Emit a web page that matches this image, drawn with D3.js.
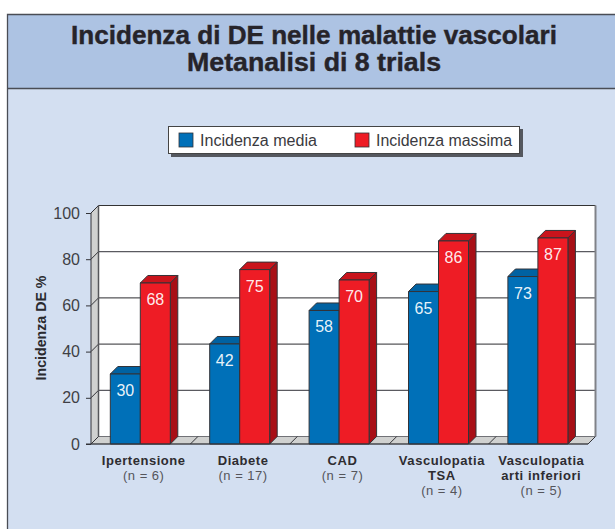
<!DOCTYPE html>
<html><head><meta charset="utf-8">
<script src="https://cdn.jsdelivr.net/npm/d3@7/dist/d3.min.js"></script>
<style>html,body{margin:0;padding:0;background:#fff}svg{display:block}text{font-family:"Liberation Sans",Arial,sans-serif}</style>
</head><body><svg id="c" width="615" height="529"></svg>
<script>
const categories = ["Ipertensione","Diabete","CAD","Vasculopatia","Vasculopatia"];
const categoryLine2 = ["","","","TSA","arti inferiori"];
const sampleSizes = ["(n = 6)","(n = 17)","(n = 7)","(n = 4)","(n = 5)"];
const seriesNames = ["Incidenza media","Incidenza massima"];
const mediaLabels = [30,42,58,65,73];
const massimaLabels = [68,75,70,86,87];
// bar heights as drawn in the picture
const mediaHeights = [30.3,43.3,57.8,66,72.5];
const massimaHeights = [69.7,75.5,71,87.9,89.2];
const yTicks = [0,20,40,60,80,100];

const svg = d3.select("#c");
const D = 7.5;
const x = d3.scaleBand().domain(d3.range(5)).range([91,588]).padding(0);
const barW = 30;
const y = d3.scaleLinear().domain([0,100]).range([444,213]);
const poly = p => p.map(q=>q.join(",")).join(" ");
const dark = "#333338";

// panels
svg.append("rect").attr("x",7).attr("y",14).attr("width",608).attr("height",74).attr("fill","#adc3e3");
svg.append("rect").attr("x",7).attr("y",88).attr("width",608).attr("height",441).attr("fill","#d3dff1");
svg.append("path").attr("d","M7.5,529V14.5H615M7,88.5H615").attr("fill","none").attr("stroke","#4a4d55").attr("stroke-width",1.3);

// title
[["Incidenza di DE nelle malattie vascolari",44,486],["Metanalisi di 8 trials",71,254]].forEach(t=>{
  svg.append("text").attr("x",314).attr("y",t[1]).attr("text-anchor","middle")
    .attr("font-size",25).attr("font-weight","bold").attr("fill","#26242a")
    .attr("stroke","#26242a").attr("stroke-width",0.4)
    .attr("textLength",t[2]).attr("lengthAdjust","spacingAndGlyphs").text(t[0]);
});

// legend
svg.append("rect").attr("x",171).attr("y",129).attr("width",352).attr("height",28).attr("fill","#55585f");
svg.append("rect").attr("x",168.5).attr("y",126.5).attr("width",351).attr("height",27).attr("fill","#fff").attr("stroke","#444").attr("stroke-width",1);
const legend = [[179,"#0070b8",200,117],[355,"#ee1c25",376,136]];
legend.forEach((l,i)=>{
  svg.append("rect").attr("x",l[0]).attr("y",133).attr("width",14).attr("height",14).attr("fill",l[1]).attr("stroke",dark).attr("stroke-width",0.8);
  svg.append("text").attr("x",l[2]).attr("y",146).attr("font-size",16).attr("fill","#3a3a40")
    .attr("textLength",l[3]).attr("lengthAdjust","spacingAndGlyphs").text(seriesNames[i]);
});

// 3D walls
const bx0=91, bx1=588;
svg.append("polygon").attr("points",poly([[bx0+D,y(100)-D],[bx1+D,y(100)-D],[bx1+D,y(0)-D],[bx0+D,y(0)-D]])).attr("fill","#fff");
svg.append("polygon").attr("points",poly([[bx0,y(100)],[bx0+D,y(100)-D],[bx0+D,y(0)-D],[bx0,y(0)]])).attr("fill","#d0d1d0");
svg.append("polygon").attr("points",poly([[bx0,y(0)],[bx0+D,y(0)-D],[bx1+D,y(0)-D],[bx1,y(0)]])).attr("fill","#d0d1d0").attr("stroke","#55565a").attr("stroke-width",0.8);
// gridlines
yTicks.forEach(v=>{
  const yy=y(v);
  const col = (v===80||v===20)?"#5a5a60":"#2c2c30";
  if(v>0) svg.append("line").attr("x1",bx0+D).attr("x2",bx1+D).attr("y1",yy-D).attr("y2",yy-D).attr("stroke",v===100?"#333":col).attr("stroke-width",v===80||v===20?1.3:1);
  svg.append("line").attr("x1",bx0).attr("x2",bx0+D).attr("y1",yy).attr("y2",yy-D).attr("stroke",dark).attr("stroke-width",1);
});
// floor dividers
d3.range(0,6).forEach(i=>{
  const px=x.step()*i+91;
  svg.append("line").attr("x1",px).attr("x2",px+D).attr("y1",y(0)).attr("y2",y(0)-D).attr("stroke",dark).attr("stroke-width",1);
});
svg.append("line").attr("x1",bx0+D).attr("x2",bx0+D).attr("y1",y(100)-D).attr("y2",y(0)-D).attr("stroke","#55565a").attr("stroke-width",1.5);
svg.append("line").attr("x1",bx0).attr("x2",bx0).attr("y1",y(100)).attr("y2",y(0)).attr("stroke",dark).attr("stroke-width",1);
svg.append("line").attr("x1",bx1+D).attr("x2",bx1+D).attr("y1",y(100)-D).attr("y2",y(0)-D).attr("stroke","#808288").attr("stroke-width",2);

// bars
const style=[{f:"#0070b8",t:"#0062a2",s:"#00528a"},{f:"#ee1c25",t:"#c9141c",s:"#a80f16"}];
function bar(left,h,st){
  const top=y(h), b=y(0), r=left+barW;
  const g=svg.append("g").attr("stroke",dark).attr("stroke-width",1).attr("stroke-linejoin","round");
  g.append("polygon").attr("points",poly([[r,top],[r+D,top-D],[r+D,b-D],[r,b]])).attr("fill",st.s);
  g.append("polygon").attr("points",poly([[left,top],[left+D,top-D],[r+D,top-D],[r,top]])).attr("fill",st.t);
  g.append("rect").attr("x",left).attr("y",top).attr("width",barW).attr("height",b-top).attr("fill",st.f);
}
categories.forEach((c,i)=>{
  const mid=x(i)+x.bandwidth()/2-0.4;
  bar(mid-barW,mediaHeights[i],style[0]);
  bar(mid,massimaHeights[i],style[1]);
  [[mid-barW/2,mediaHeights[i],mediaLabels[i]],[mid+barW/2,massimaHeights[i],massimaLabels[i]]].forEach(d=>{
    svg.append("text").attr("x",d[0]).attr("y",y(d[1])+22).attr("text-anchor","middle")
      .attr("font-size",16).attr("fill","#fff").attr("fill-opacity",0.93).text(d[2]);
  });
});
// baseline over bars
svg.append("line").attr("x1",86).attr("x2",588).attr("y1",y(0)).attr("y2",y(0)).attr("stroke",dark).attr("stroke-width",1.2);

// y axis
const ax=svg.append("g").attr("transform","translate(91,0)")
  .call(d3.axisLeft(y).tickValues(yTicks).tickSize(5).tickPadding(6));
ax.select(".domain").remove();
ax.selectAll("line").attr("stroke",dark);
ax.selectAll("text").attr("font-size",16).attr("fill","#3f3f45").attr("font-family",'"Liberation Sans"');
svg.append("text").attr("transform","translate(46,328) rotate(-90)").attr("text-anchor","middle")
  .attr("font-size",14.2).attr("font-weight","bold").attr("fill","#2a2a2e").text("Incidenza DE %");

// category labels
const catCenters=i=>x(i)+x.bandwidth()/2+3;
categories.forEach((c,i)=>{
  const cx=catCenters(i);
  const bold=(t,yy)=>svg.append("text").attr("x",cx).attr("y",yy).attr("text-anchor","middle").attr("font-size",13).attr("letter-spacing",0.55).attr("font-weight","bold").attr("fill","#2e2c30").text(t);
  bold(c,465);
  let ny=480;
  if(categoryLine2[i]){bold(categoryLine2[i],480);ny=495;}
  svg.append("text").attr("x",cx).attr("y",ny).attr("text-anchor","middle").attr("font-size",13).attr("letter-spacing",0.5).attr("fill","#55555b").text(sampleSizes[i]);
});
</script></body></html>
